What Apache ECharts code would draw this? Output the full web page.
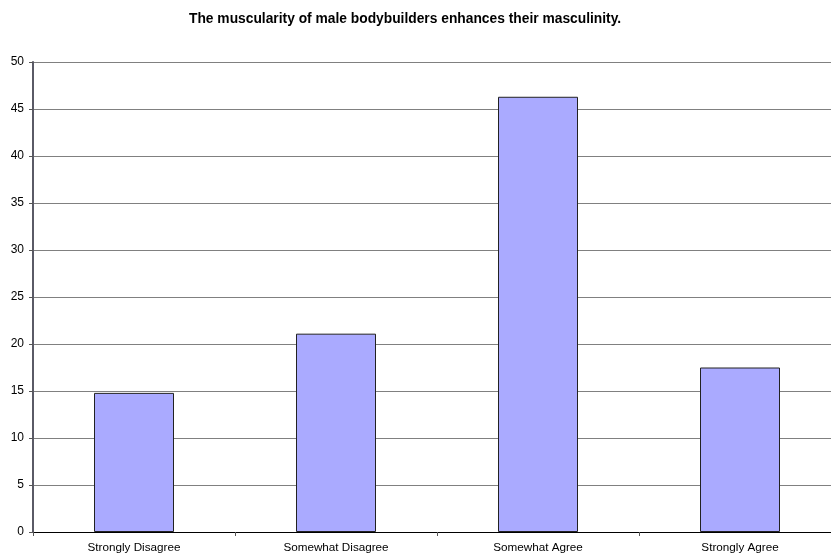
<!DOCTYPE html>
<html><head><meta charset="utf-8">
<script src="https://cdn.jsdelivr.net/npm/echarts@6/dist/echarts.min.js"></script>
<style>html,body{margin:0;padding:0;background:#fff;overflow:hidden}#c{width:842px;height:558px}</style>
</head><body><div id="c"></div>
<script>
const categories = ["Strongly Disagree", "Somewhat Disagree", "Somewhat Agree", "Strongly Agree"];
const values = [14.8, 21.1, 46.3, 17.5];
const title = "The muscularity of male bodybuilders enhances their masculinity.";
const chart = echarts.init(document.getElementById('c'));
chart.setOption({
  animation: false,
  title: { text: title, left: 184, top: 7, textStyle: { fontFamily: 'Liberation Sans, Arial', fontSize: 13.8, fontWeight: 'bold', color: '#000' } },
  grid: { left: 33, right: 1, top: 62, bottom: 26 },
  xAxis: {
    type: 'category', data: categories,
    axisLine: { lineStyle: { color: '#000', width: 1 } },
    axisTick: { show: true, alignWithLabel: false, length: 4, lineStyle: { color: '#555' } },
    axisLabel: { fontFamily: 'Liberation Sans, Arial', fontSize: 11.7, color: '#000', margin: 10 }
  },
  yAxis: {
    type: 'value', min: 0, max: 50, interval: 5,
    axisLine: { show: true, lineStyle: { color: '#5a5a66', width: 2 } },
    axisTick: { show: true, length: 4, inside: false, lineStyle: { color: '#555' } },
    axisLabel: { fontFamily: 'Liberation Sans, Arial', fontSize: 12, color: '#000', margin: 9 },
    splitLine: { lineStyle: { color: '#808080', width: 1 } }
  },
  series: [{
    type: 'bar', data: values, barWidth: 80,
    itemStyle: { color: '#aaaaff', borderColor: '#222', borderWidth: 1 }
  }]
});
</script></body></html>
